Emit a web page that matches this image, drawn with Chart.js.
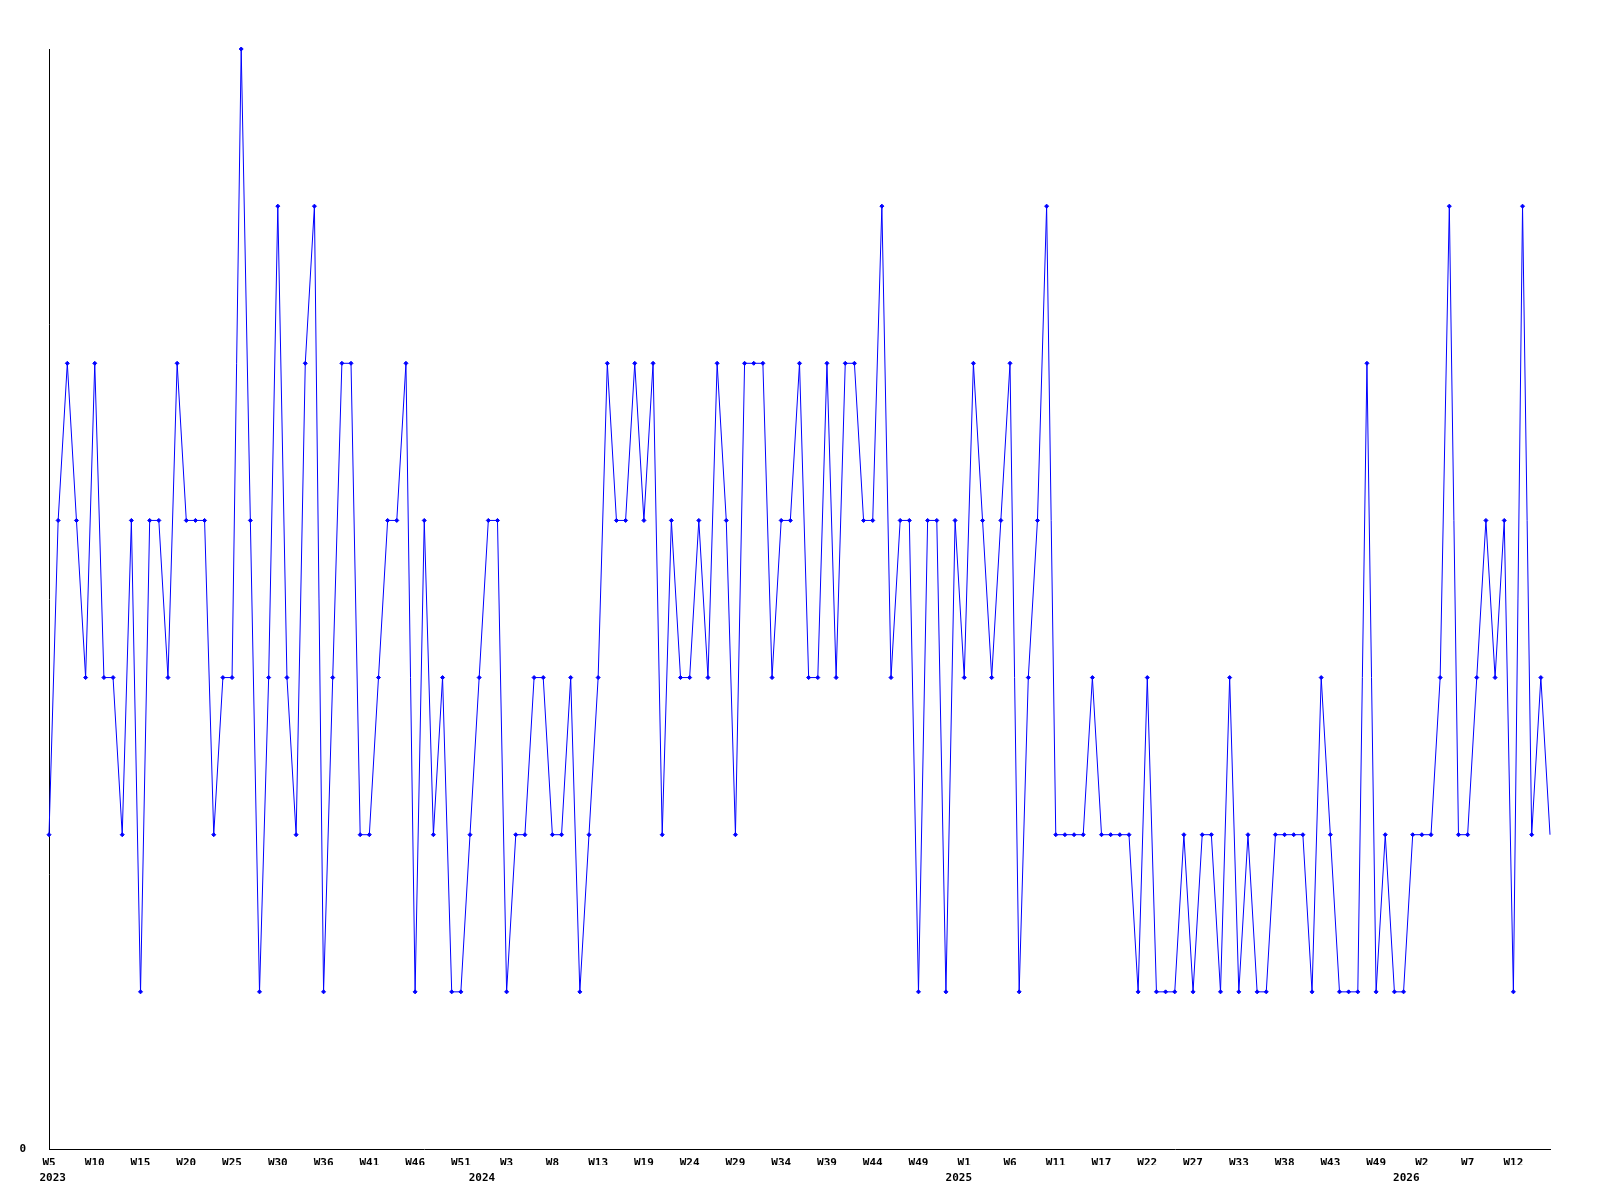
<!DOCTYPE html>
<html>
<head>
<meta charset="utf-8">
<script src="https://cdn.jsdelivr.net/npm/chart.js@4.4.1/dist/chart.umd.min.js"></script>
<style>
  html, body { margin: 0; padding: 0; background: #fff; }
</style>
</head>
<body>
<canvas id="chart" width="1600" height="1200"></canvas>
<script>
// One value per week, starting 2023 W5. Labels every 5th point.
const weekTicks = [
    'W5', 'W10', 'W15', 'W20', 'W25', 'W30', 'W36', 'W41', 'W46', 'W51',
    'W3', 'W8', 'W13', 'W19', 'W24', 'W29', 'W34', 'W39', 'W44', 'W49',
    'W1', 'W6', 'W11', 'W17', 'W22', 'W27', 'W33', 'W38', 'W43', 'W49',
    'W2', 'W7', 'W12',
];
const WEEK_TICK_STEP = 5;

const years = ['2023', '2024', '2025', '2026'];
const yearTickIndex = [0.4, 47.3, 99.4, 148.3];

const values = [
    2, 4, 5, 4, 3, 5, 3, 3, 2, 4, 1, 4, 4, 3, 5, 4, 4, 4, 2, 3, 3,
    7, 4, 1, 3, 6, 3, 2, 5, 6, 1, 3, 5, 5, 2, 2, 3, 4, 4, 5, 1, 4,
    2, 3, 1, 1, 2, 3, 4, 4, 1, 2, 2, 3, 3, 2, 2, 3, 1, 2, 3, 5, 4,
    4, 5, 4, 5, 2, 4, 3, 3, 4, 3, 5, 4, 2, 5, 5, 5, 3, 4, 4, 5, 3,
    3, 5, 3, 5, 5, 4, 4, 6, 3, 4, 4, 1, 4, 4, 1, 4, 3, 5, 4, 3,
    4, 5, 1, 3, 4, 6, 2, 2, 2, 2, 3, 2, 2, 2, 2, 1, 3, 1, 1, 1, 2,
    1, 2, 2, 1, 3, 1, 2, 1, 1, 2, 2, 2, 2, 1, 3, 2, 1, 1, 1, 5, 1,
    2, 1, 1, 2, 2, 2, 3, 6, 2, 2, 3, 4, 3, 4, 1, 6, 2, 3, 2,
];

const FONT = { family: "'DejaVu Sans Mono', monospace", size: 11, weight: 'bold' };
const last = values.length - 1;

new Chart(document.getElementById('chart'), {
    type: 'line',
    data: {
        datasets: [{
            data: values.map((v, i) => ({ x: i, y: v })),
            borderColor: '#0000ff',
            borderWidth: 1,
            tension: 0,
            clip: false,
            pointStyle: 'rectRot',
            pointRadius: (ctx) => (ctx.dataIndex === last ? 0 : 2),
            pointBackgroundColor: '#0000ff',
            pointBorderColor: '#0000ff',
            pointBorderWidth: 1,
        }],
    },
    options: {
        responsive: false,
        animation: false,
        layout: { padding: { top: 49, right: 50, bottom: 0, left: 0 } },
        plugins: { legend: { display: false }, tooltip: { enabled: false } },
        scales: {
            x: {
                type: 'linear',
                position: 'bottom',
                min: 0,
                max: last,
                grid: { display: false, drawTicks: false },
                border: { display: true, color: '#000', width: 1 },
                ticks: {
                    autoSkip: false, maxRotation: 0, padding: 8, color: '#000', font: FONT,
                    callback: (v) => weekTicks[v / WEEK_TICK_STEP],
                },
                afterBuildTicks: (axis) => {
                    axis.ticks = weekTicks.map((_, k) => ({ value: k * WEEK_TICK_STEP }));
                },
                afterFit: (axis) => { axis.height = 16; },
            },
            year: {
                type: 'linear',
                position: 'bottom',
                min: 0,
                max: last,
                grid: { display: false, drawTicks: false },
                border: { display: false },
                ticks: {
                    autoSkip: false, maxRotation: 0, padding: 7, color: '#000', font: FONT,
                    callback: (v) => years[yearTickIndex.indexOf(v)],
                },
                afterBuildTicks: (axis) => {
                    axis.ticks = yearTickIndex.map((v) => ({ value: v }));
                },
                afterFit: (axis) => { axis.height = 35; },
            },
            y: {
                min: 0,
                max: 7,
                grid: { display: false, drawTicks: false },
                border: { display: true, color: '#000', width: 1 },
                ticks: { padding: 23, color: '#000', font: FONT },
                afterBuildTicks: (axis) => { axis.ticks = [{ value: 0 }]; },
                afterFit: (axis) => { axis.width = 49; },
            },
        },
    },
});
</script>
</body>
</html>
